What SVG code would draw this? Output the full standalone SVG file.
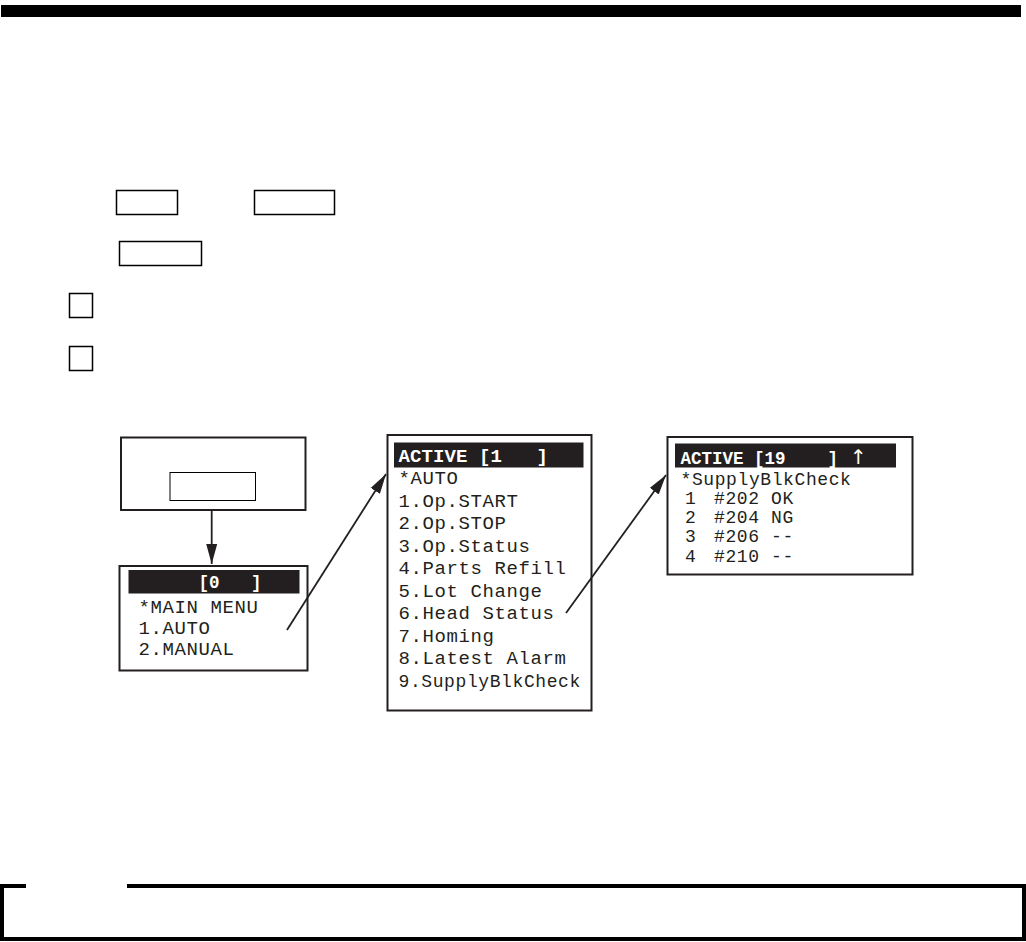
<svg xmlns="http://www.w3.org/2000/svg" width="1026" height="942" viewBox="0 0 1026 942">
<style>
.key{fill:#fff;stroke:#000;stroke-width:1.5}
.scr{fill:#fff;stroke:#231f20;stroke-width:2}
.bar{fill:#231f20}
.mono{font-family:"Liberation Mono","DejaVu Sans Mono",monospace;fill:#231f20}
.hdr{font-family:"Liberation Mono","DejaVu Sans Mono",monospace;font-weight:bold;fill:#fff}
.conn{stroke:#231f20;stroke-width:1.8;fill:none}
</style>
<defs>
<marker id="ah" viewBox="0 0 20 12" refX="20" refY="6" markerWidth="20" markerHeight="12" markerUnits="userSpaceOnUse" orient="auto">
<path d="M0,0.5 L20,6 L0,11.5 Z" fill="#231f20"/>
</marker>
</defs>
<rect x="0" y="0" width="1026" height="942" fill="#fff"/>
<rect id="topbar" x="1" y="5" width="1020" height="12" fill="#000"/>

<g id="key1"><rect class="key" x="116.5" y="190.5" width="61" height="24"/></g>
<g id="key2"><rect class="key" x="254.5" y="190.5" width="80" height="24"/></g>
<g id="key3"><rect class="key" x="119.5" y="241.5" width="82" height="24"/></g>
<g id="check1"><rect class="key" x="69.5" y="293.5" width="23" height="24"/></g>
<g id="check2"><rect class="key" x="69.5" y="346.5" width="23" height="24"/></g>

<g id="panel">
<rect class="scr" x="121" y="437.5" width="184.5" height="72.5"/>
<rect fill="#fff" stroke="#000" stroke-width="1" x="170" y="472.5" width="85.5" height="28"/>
</g>

<g id="mainmenu">
<rect class="scr" x="119.5" y="566" width="188" height="104.5"/>
<rect class="bar" x="128.5" y="570" width="171" height="23.5"/>
<text class="hdr" x="198.5" y="588" font-size="17.5" xml:space="preserve">[0   ]</text>
<text class="mono" x="138.5" y="613" font-size="19" letter-spacing="0.6" xml:space="preserve">*MAIN MENU</text>
<text class="mono" x="138.5" y="634" font-size="19" letter-spacing="0.6">1.AUTO</text>
<text class="mono" x="138.5" y="655" font-size="19" letter-spacing="0.6">2.MANUAL</text>
</g>

<g id="automenu">
<rect class="scr" x="387.5" y="435" width="204" height="275.5"/>
<rect class="bar" x="394" y="442.5" width="189.5" height="25"/>
<text class="hdr" x="398.5" y="462" font-size="19" letter-spacing="0.1" xml:space="preserve">ACTIVE [1   ]</text>
<g class="mono" font-size="19" letter-spacing="0.6">
<text x="398.5" y="484">*AUTO</text>
<text x="398.5" y="506.5">1.Op.START</text>
<text x="398.5" y="529">2.Op.STOP</text>
<text x="398.5" y="551.5">3.Op.Status</text>
<text x="398.5" y="574">4.Parts Refill</text>
<text x="398.5" y="596.5">5.Lot Change</text>
<text x="398.5" y="619">6.Head Status</text>
<text x="398.5" y="641.5">7.Homing</text>
<text x="398.5" y="664">8.Latest Alarm</text>
<text x="398.5" y="687" font-size="18">9.SupplyBlkCheck</text>
</g>
</g>

<g id="supplycheck">
<rect class="scr" x="667.5" y="437" width="245" height="137.5"/>
<rect class="bar" x="675" y="443.5" width="221" height="24"/>
<text class="hdr" x="680.5" y="463.5" font-size="17.5" xml:space="preserve">ACTIVE [19    ]</text>
<text x="850" y="463.5" font-size="20" font-family="DejaVu Sans, sans-serif" fill="#ffffff">↑</text>
<g class="mono" font-size="18" letter-spacing="0.6">
<text x="680.5" y="485">*SupplyBlkCheck</text>
<text y="504"><tspan x="685">1</tspan><tspan x="714">#202 OK</tspan></text>
<text y="523.3"><tspan x="685">2</tspan><tspan x="714">#204 NG</tspan></text>
<text y="542.3"><tspan x="685">3</tspan><tspan x="714">#206 --</tspan></text>
<text y="561.7"><tspan x="685">4</tspan><tspan x="714">#210 --</tspan></text>
</g>
</g>

<g id="connectors">
<line class="conn" x1="211.7" y1="510" x2="211.7" y2="564" marker-end="url(#ah)"/>
<line class="conn" x1="287" y1="630" x2="386" y2="474" marker-end="url(#ah)"/>
<line class="conn" x1="566" y1="613" x2="666" y2="475" marker-end="url(#ah)"/>
</g>

<g id="notebox">
<path d="M26,886 L2,886 L2,939 L1024,939 L1024,886 L127,886" fill="none" stroke="#000" stroke-width="4"/>
</g>
</svg>
